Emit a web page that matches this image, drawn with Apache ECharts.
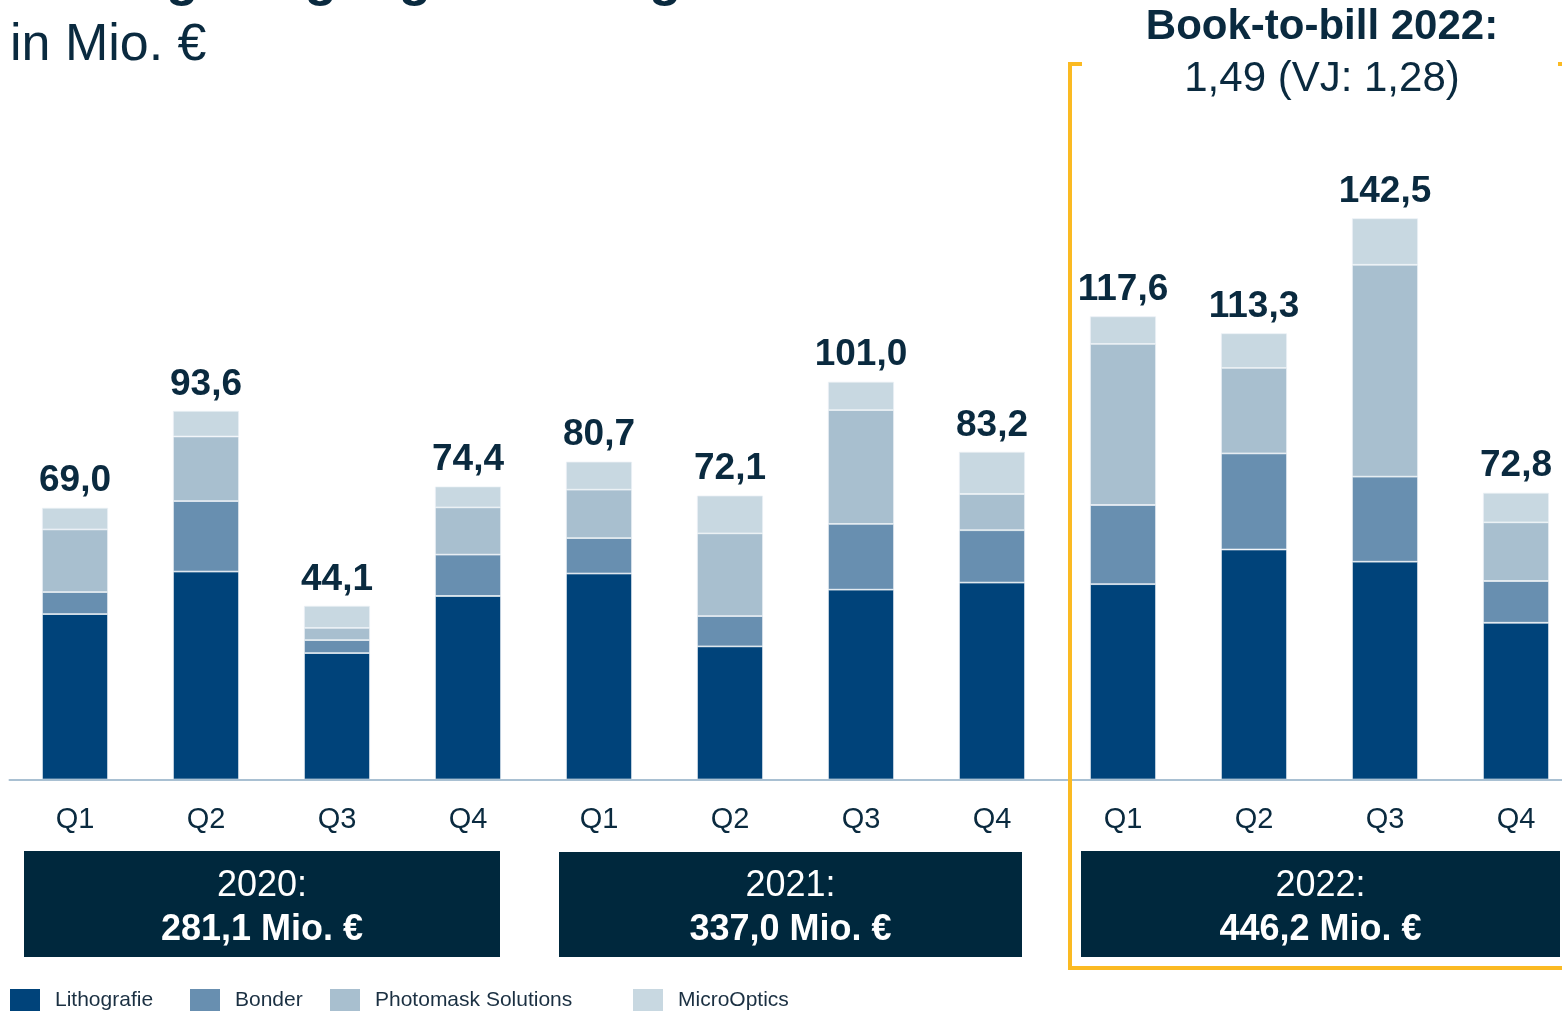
<!DOCTYPE html>
<html>
<head>
<meta charset="utf-8">
<script src="https://cdn.jsdelivr.net/npm/echarts@6/dist/echarts.min.js"></script>
<style>
html,body{margin:0;padding:0;background:#fff;}
#chart{width:1562px;height:1012px;}
</style>
</head>
<body>
<div id="chart"></div>
<script>
// ---- data ----
const categories = ['Q1','Q2','Q3','Q4','Q1','Q2','Q3','Q4','Q1','Q2','Q3','Q4'];
const lithografie = [42.0, 52.8, 32.1, 46.6, 52.3, 33.8, 48.2, 50.0, 49.6, 58.4, 55.3, 39.8];
const bonder      = [5.6, 17.9, 3.3, 10.5, 9.0, 7.7, 16.7, 13.3, 20.1, 24.4, 21.6, 10.6];
const photomask   = [15.9, 16.4, 3.1, 12.0, 12.3, 21.0, 28.9, 9.2, 40.9, 21.7, 53.8, 14.9];
const microOptics = [5.5, 6.5, 5.6, 5.3, 7.1, 9.6, 7.2, 10.7, 7.0, 8.8, 11.8, 7.5];
const totals = ['69,0','93,6','44,1','74,4','80,7','72,1','101,0','83,2','117,6','113,3','142,5','72,8'];
const seriesNames = ['Lithografie','Bonder','Photomask Solutions','MicroOptics'];
const yearLabels = ['2020:','2021:','2022:'];
const yearTotals = ['281,1 Mio. €','337,0 Mio. €','446,2 Mio. €'];
const titleLine1 = 'Auftragseingang nach Segmenten';
const titleLine2 = 'in Mio. €';
const btbTitle = 'Book-to-bill 2022:';
const btbValue = '1,49 (VJ: 1,28)';

const colors = ['#00437a','#688fb0','#a8bfcf','#c8d8e1'];
const dark = '#0a2a3f';
const boxColor = '#00283d';
const orange = '#fbba22';
const FONT = '"Liberation Sans", Arial, sans-serif';

const chart = echarts.init(document.getElementById('chart'));

const dataSets = [lithografie, bonder, photomask, microOptics];
const series = dataSets.map((d, i) => ({
  name: seriesNames[i],
  type: 'bar',
  stack: 'total',
  barWidth: 66,
  data: d,
  itemStyle: { color: colors[i], borderColor: 'rgba(235,241,245,0.9)', borderWidth: 0.8 },
  emphasis: { disabled: true },
  label: i === 3 ? {
    show: true,
    position: 'top',
    distance: 8,
    formatter: p => totals[p.dataIndex],
    fontSize: 37,
    fontWeight: 'bold',
    color: dark,
    fontFamily: FONT
  } : { show: false }
}));

const legendLefts = [10, 190, 330, 633];
const legends = seriesNames.map((n, i) => ({
  data: [n],
  left: legendLefts[i],
  top: 989,
  padding: 0,
  icon: 'rect',
  itemWidth: 30,
  itemHeight: 22,
  itemStyle: { borderWidth: 0 },
  textStyle: { fontSize: 21, color: '#1b3042', fontFamily: FONT, padding: [0,0,0,10] },
  selectedMode: false
}));

const boxes = [
  { x: 24, y: 851, w: 476, h: 106 },
  { x: 559, y: 852, w: 463, h: 105 },
  { x: 1081, y: 851, w: 479, h: 106 }
];
const graphics = [];
boxes.forEach((b, i) => {
  graphics.push({ type: 'rect', shape: { x: b.x, y: b.y, width: b.w, height: b.h }, style: { fill: boxColor }, z: 10 });
  graphics.push({ type: 'text', x: b.x + b.w / 2, y: 886, z: 11,
    style: { text: yearLabels[i], fontSize: 36, fontFamily: FONT, fill: '#ffffff', align: 'center', verticalAlign: 'middle' } });
  graphics.push({ type: 'text', x: b.x + b.w / 2, y: 930, z: 11,
    style: { text: yearTotals[i], fontSize: 36, fontWeight: 'bold', fontFamily: FONT, fill: '#ffffff', align: 'center', verticalAlign: 'middle' } });
});
// orange bracket around 2022
graphics.push({ type: 'polyline', z: 5, shape: { points: [[1082,64],[1070,64],[1070,968],[1570,968]] },
  style: { stroke: orange, lineWidth: 4, fill: null } });
graphics.push({ type: 'line', z: 5, shape: { x1: 1558, y1: 64, x2: 1570, y2: 64 }, style: { stroke: orange, lineWidth: 4 } });
// titles
graphics.push({ type: 'text', x: 10, y: -20, z: 12,
  style: { text: titleLine1, fontSize: 53, fontWeight: 'bold', fontFamily: FONT, fill: dark, align: 'left', verticalAlign: 'middle' } });
graphics.push({ type: 'text', x: 10, y: 46, z: 12,
  style: { text: titleLine2, fontSize: 52, fontFamily: FONT, fill: dark, align: 'left', verticalAlign: 'middle' } });
graphics.push({ type: 'text', x: 1322, y: 27, z: 12,
  style: { text: btbTitle, fontSize: 42, fontWeight: 'bold', fontFamily: FONT, fill: dark, align: 'center', verticalAlign: 'middle' } });
graphics.push({ type: 'text', x: 1322, y: 79, z: 12,
  style: { text: btbValue, fontSize: 42, fontFamily: FONT, fill: dark, align: 'center', verticalAlign: 'middle' } });

chart.setOption({
  animation: false,
  backgroundColor: '#ffffff',
  textStyle: { fontFamily: FONT },
  color: colors,
  grid: { left: 9.5, width: 1572, top: 110, bottom: 232.5, containLabel: false, outerBoundsMode: 'none' },
  xAxis: {
    type: 'category',
    data: categories,
    axisLine: { lineStyle: { color: '#a9c0d2', width: 2 } },
    axisTick: { show: false },
    axisLabel: { fontSize: 29, color: dark, margin: 26, fontFamily: FONT },
    z: 3
  },
  yAxis: { type: 'value', min: 0, max: 170, show: false, splitLine: { show: false } },
  legend: legends,
  series: series,
  graphic: graphics
});
</script>
</body>
</html>
